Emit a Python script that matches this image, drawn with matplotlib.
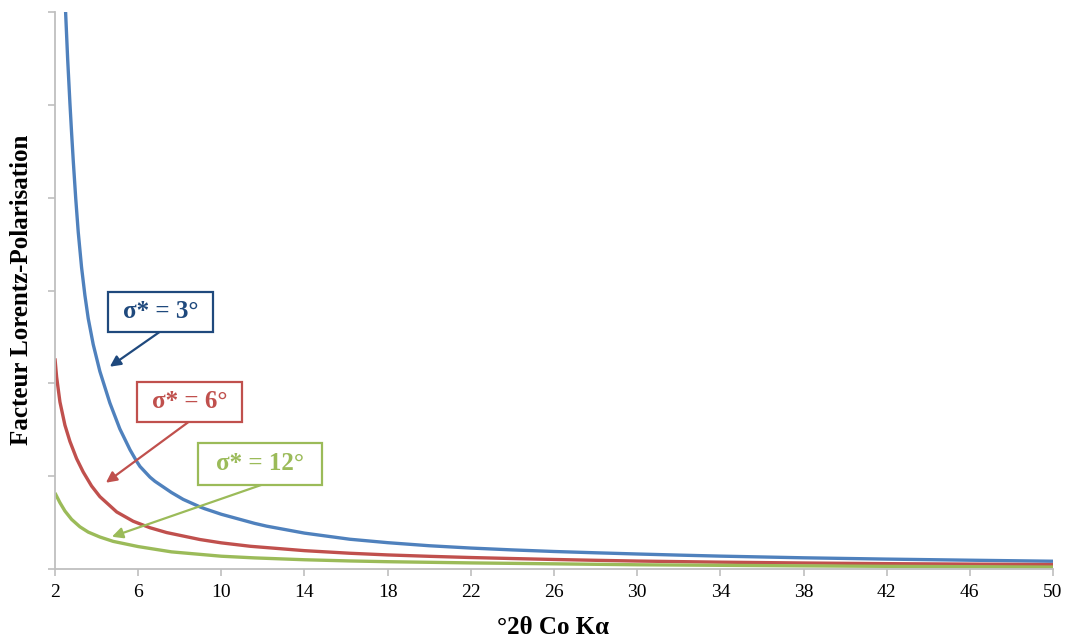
import matplotlib
matplotlib.use("Agg")
import matplotlib.pyplot as plt
from matplotlib.patches import Rectangle

# ---- data ----
blue_x = [2.48, 2.514, 2.61, 2.72, 2.80, 2.88, 3.0, 3.12, 3.28, 3.44, 3.60, 3.84, 4.16, 4.64, 5.12, 5.61,
          5.93, 6.09, 6.57, 6.81, 7.6, 8.17, 8.97, 9.2, 10, 11.6, 12.18, 14, 16.18, 18, 20, 22, 24, 26, 28,
          30, 32, 34, 38, 42, 46, 50]
blue_y = [6.17, 5.99, 5.50, 5.02, 4.70, 4.40, 3.99, 3.63, 3.25, 2.95, 2.70, 2.42, 2.13, 1.79, 1.51, 1.285,
          1.16, 1.105, 0.99, 0.945, 0.825, 0.75, 0.67, 0.65, 0.59, 0.492, 0.462, 0.387, 0.321, 0.284, 0.251,
          0.226, 0.206, 0.189, 0.175, 0.162, 0.150, 0.139, 0.121, 0.107, 0.095, 0.084]

red_x = [2.0, 2.08, 2.24, 2.48, 2.72, 3.04, 3.36, 3.76, 4.16, 4.97, 5.76, 6.57, 7.37, 8.97, 10, 11.4,
         14, 16.18, 18, 20, 22, 24, 26, 28, 30, 34, 38, 42, 46, 50]
red_y = [2.27, 2.07, 1.80, 1.55, 1.375, 1.19, 1.045, 0.895, 0.78, 0.615, 0.515, 0.445, 0.393, 0.318, 0.282,
         0.245, 0.198, 0.17, 0.152, 0.137, 0.124, 0.113, 0.103, 0.094, 0.086, 0.074, 0.065, 0.058, 0.053,
         0.048]

green_x = [2.0, 2.24, 2.48, 2.8, 3.2, 3.6, 4.16, 4.8, 6, 7.6, 10, 11.6, 14, 16.18, 18, 22, 26, 30, 34,
           38, 42, 46, 50]
green_y = [0.82, 0.715, 0.625, 0.535, 0.455, 0.398, 0.345, 0.298, 0.242, 0.185, 0.138, 0.12, 0.10, 0.087,
           0.079, 0.066, 0.056, 0.046, 0.04, 0.034, 0.029, 0.025, 0.021]

x_ticks = list(range(2, 51, 4))
y_ticks = [0, 1, 2, 3, 4, 5, 6]

labels = ["σ* = 3°", "σ* = 6°", "σ* = 12°"]

# ---- layout (annotation geometry, in data coordinates) ----
box_rects = [(4.548, 2.557, 9.596, 2.988), (5.942, 1.587, 10.99, 2.018), (8.875, 0.908, 14.84, 1.36)]
arrow_start = [(7.05, 2.557), (8.44, 1.587), (11.95, 0.908)]
arrow_tip = [(4.64, 2.18), (4.45, 0.93), (4.74, 0.348)]

line_colors = ["#4F81BD", "#C0504D", "#9BBB59"]
text_colors = ["#1F497D", "#C0504D", "#9BBB59"]

plt.rcParams['font.family'] = ['Liberation Serif', 'DejaVu Serif']

fig = plt.figure(figsize=(10.67, 6.39), dpi=100)
ax = fig.add_axes([0.0515, 0.1095, 0.9354, 0.8715])

for xs, ys, c in zip([blue_x, red_x, green_x], [blue_y, red_y, green_y], line_colors):
    ax.plot(xs, ys, color=c, lw=2.4, solid_capstyle='butt', solid_joinstyle='round')

for lab, r, st, tip, tc in zip(labels, box_rects, arrow_start, arrow_tip, text_colors):
    x0, y0, x1, y1 = r
    ax.add_patch(Rectangle((x0, y0), x1 - x0, y1 - y0, fc='white', ec=tc, lw=1.6, zorder=5))
    ax.text((x0 + x1) / 2, (y0 + y1) / 2, lab, ha='center', va='center', fontsize=18,
            fontweight='bold', color=tc, zorder=6)
    ax.annotate("", xy=tip, xytext=st,
                arrowprops=dict(arrowstyle='-|>', color=tc, lw=1.6, mutation_scale=16,
                                shrinkA=0, shrinkB=0), zorder=4)

ax.set_xlim(2, 50)
ax.set_ylim(0, 6)
ax.set_xticks(x_ticks)
ax.set_yticks(y_ticks)
ax.set_yticklabels([])
ax.tick_params(axis='x', labelsize=14, length=5, width=1.2, color='#BFBFBF', pad=6, direction='out')
ax.tick_params(axis='y', length=5, width=1.2, color='#BFBFBF', direction='out')
for s in ['top', 'right']:
    ax.spines[s].set_visible(False)
for s in ['left', 'bottom']:
    ax.spines[s].set_color('#BFBFBF')
    ax.spines[s].set_linewidth(1.3)

fig.text(553 / 1067, 1 - 628 / 639, "°2θ Co Kα", fontsize=18, fontweight='bold',
         ha='center', va='center')
fig.text(22 / 1067, 1 - 290 / 639, "Facteur Lorentz-Polarisation", fontsize=18, fontweight='bold',
         ha='center', va='center', rotation=90)

fig.savefig("out.png", dpi=100)
